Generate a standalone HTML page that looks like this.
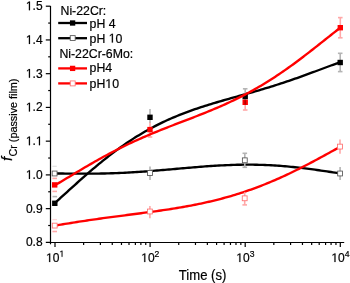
<!DOCTYPE html>
<html><head><meta charset="utf-8"><style>html,body{margin:0;padding:0;background:#fff;width:350px;height:283px;overflow:hidden}svg{display:block;will-change:transform;filter:blur(0.25px)}text{font-family:"Liberation Sans",sans-serif;fill:#000;stroke:#000;stroke-width:0.2px}.o{fill:none;stroke:none}</style></head><body>
<svg width="350" height="283" viewBox="0 0 350 283">
<rect width="350" height="283" fill="#fff"/>
<g stroke="#000" stroke-width="1.20" fill="none">
<line x1="50.50" y1="6.0" x2="50.50" y2="244.3"/>
<line x1="49.90" y1="242.50" x2="344.2" y2="242.50"/>
<line x1="45.8" y1="242.38" x2="50.50" y2="242.38"/>
<line x1="45.8" y1="208.64" x2="50.50" y2="208.64"/>
<line x1="45.8" y1="174.90" x2="50.50" y2="174.90"/>
<line x1="45.8" y1="141.16" x2="50.50" y2="141.16"/>
<line x1="45.8" y1="107.42" x2="50.50" y2="107.42"/>
<line x1="45.8" y1="73.68" x2="50.50" y2="73.68"/>
<line x1="45.8" y1="39.94" x2="50.50" y2="39.94"/>
<line x1="45.8" y1="6.20" x2="50.50" y2="6.20"/>
<line x1="48.2" y1="225.51" x2="50.50" y2="225.51"/>
<line x1="48.2" y1="191.77" x2="50.50" y2="191.77"/>
<line x1="48.2" y1="158.03" x2="50.50" y2="158.03"/>
<line x1="48.2" y1="124.29" x2="50.50" y2="124.29"/>
<line x1="48.2" y1="90.55" x2="50.50" y2="90.55"/>
<line x1="48.2" y1="56.81" x2="50.50" y2="56.81"/>
<line x1="48.2" y1="23.07" x2="50.50" y2="23.07"/>
<line x1="55.00" y1="242.50" x2="55.00" y2="247.0"/>
<line x1="150.10" y1="242.50" x2="150.10" y2="247.0"/>
<line x1="245.20" y1="242.50" x2="245.20" y2="247.0"/>
<line x1="340.30" y1="242.50" x2="340.30" y2="247.0"/>
<line x1="83.63" y1="242.50" x2="83.63" y2="245.0"/>
<line x1="100.37" y1="242.50" x2="100.37" y2="245.0"/>
<line x1="112.26" y1="242.50" x2="112.26" y2="245.0"/>
<line x1="121.47" y1="242.50" x2="121.47" y2="245.0"/>
<line x1="129.00" y1="242.50" x2="129.00" y2="245.0"/>
<line x1="135.37" y1="242.50" x2="135.37" y2="245.0"/>
<line x1="140.88" y1="242.50" x2="140.88" y2="245.0"/>
<line x1="145.75" y1="242.50" x2="145.75" y2="245.0"/>
<line x1="178.73" y1="242.50" x2="178.73" y2="245.0"/>
<line x1="195.47" y1="242.50" x2="195.47" y2="245.0"/>
<line x1="207.36" y1="242.50" x2="207.36" y2="245.0"/>
<line x1="216.57" y1="242.50" x2="216.57" y2="245.0"/>
<line x1="224.10" y1="242.50" x2="224.10" y2="245.0"/>
<line x1="230.47" y1="242.50" x2="230.47" y2="245.0"/>
<line x1="235.98" y1="242.50" x2="235.98" y2="245.0"/>
<line x1="240.85" y1="242.50" x2="240.85" y2="245.0"/>
<line x1="273.83" y1="242.50" x2="273.83" y2="245.0"/>
<line x1="290.57" y1="242.50" x2="290.57" y2="245.0"/>
<line x1="302.46" y1="242.50" x2="302.46" y2="245.0"/>
<line x1="311.67" y1="242.50" x2="311.67" y2="245.0"/>
<line x1="319.20" y1="242.50" x2="319.20" y2="245.0"/>
<line x1="325.57" y1="242.50" x2="325.57" y2="245.0"/>
<line x1="331.08" y1="242.50" x2="331.08" y2="245.0"/>
<line x1="335.95" y1="242.50" x2="335.95" y2="245.0"/>
</g>
<g font-size="12" text-anchor="end">
<text x="42.6" y="246.38">0.8</text>
<text x="42.6" y="212.64">0.9</text>
<text x="42.6" y="178.90"><tspan id="o0" class="o">1</tspan>.0</text>
<text x="42.6" y="145.16"><tspan id="o1" class="o">1</tspan>.<tspan id="o2" class="o">1</tspan></text>
<text x="42.6" y="111.42"><tspan id="o3" class="o">1</tspan>.2</text>
<text x="42.6" y="77.68"><tspan id="o4" class="o">1</tspan>.3</text>
<text x="42.6" y="43.94"><tspan id="o5" class="o">1</tspan>.4</text>
<text x="42.6" y="10.20"><tspan id="o6" class="o">1</tspan>.5</text>
</g>
<text x="55.20" y="262" font-size="12" text-anchor="middle"><tspan id="o7" class="o">1</tspan>0<tspan font-size="8.6" dy="-5.2"><tspan id="o8" class="o">1</tspan></tspan></text>
<text x="150.30" y="262" font-size="12" text-anchor="middle"><tspan id="o9" class="o">1</tspan>0<tspan font-size="8.6" dy="-5.2">2</tspan></text>
<text x="245.40" y="262" font-size="12" text-anchor="middle"><tspan id="o10" class="o">1</tspan>0<tspan font-size="8.6" dy="-5.2">3</tspan></text>
<text x="340.50" y="262" font-size="12" text-anchor="middle"><tspan id="o11" class="o">1</tspan>0<tspan font-size="8.6" dy="-5.2">4</tspan></text>
<text transform="translate(202.6,280.3) scale(1,1.07)" font-size="13.1" text-anchor="middle">Time (s)</text>
<text transform="translate(12,160.9) rotate(-90)" font-size="15"><tspan font-style="italic">f</tspan><tspan font-size="10.8" dy="4.6" dx="0.2">Cr (passive film)</tspan></text>
<g stroke="#ffa8a8" stroke-width="1.6">
<line x1="52.40" y1="178.40" x2="57.00" y2="178.40"/>
<line x1="52.40" y1="191.40" x2="57.00" y2="191.40"/>
<line x1="150.00" y1="122.00" x2="150.00" y2="137.00"/>
<line x1="147.70" y1="137.00" x2="152.30" y2="137.00"/>
<line x1="245.20" y1="94.60" x2="245.20" y2="110.00"/>
<line x1="242.90" y1="110.00" x2="247.50" y2="110.00"/>
<line x1="340.30" y1="17.60" x2="340.30" y2="37.80"/>
<line x1="338.00" y1="17.60" x2="342.60" y2="17.60"/>
<line x1="338.00" y1="37.80" x2="342.60" y2="37.80"/>
</g>
<path fill="none" stroke-width="2.35" stroke-linejoin="round" stroke="#000" d="M55.00,202.88L57.00,201.09L59.00,199.28L61.00,197.48L63.00,195.66L65.00,193.85L67.00,192.03L69.00,190.22L71.00,188.41L73.00,186.60L75.00,184.79L77.00,183.00L79.00,181.20L81.00,179.42L83.00,177.65L85.00,175.89L87.00,174.14L89.00,172.40L91.00,170.68L93.00,168.97L95.00,167.28L97.00,165.60L99.00,163.95L101.00,162.31L103.00,160.68L105.00,159.08L107.00,157.50L109.00,155.93L111.00,154.39L113.00,152.87L115.00,151.37L117.00,149.89L119.00,148.43L121.00,147.00L123.00,145.59L125.00,144.20L127.00,142.83L129.00,141.49L131.00,140.17L133.00,138.88L135.00,137.60L137.00,136.35L139.00,135.13L141.00,133.92L143.00,132.74L145.00,131.59L147.00,130.45L149.00,129.34L151.00,128.25L153.00,127.18L155.00,126.14L157.00,125.11L159.00,124.11L161.00,123.13L163.00,122.16L165.00,121.22L167.00,120.30L169.00,119.40L171.00,118.51L173.00,117.65L175.00,116.80L177.00,115.97L179.00,115.16L181.00,114.36L183.00,113.59L185.00,112.82L187.00,112.07L189.00,111.34L191.00,110.62L193.00,109.91L195.00,109.22L197.00,108.53L199.00,107.86L201.00,107.20L203.00,106.55L205.00,105.91L207.00,105.28L209.00,104.66L211.00,104.05L213.00,103.44L215.00,102.84L217.00,102.25L219.00,101.66L221.00,101.08L223.00,100.50L225.00,99.93L227.00,99.36L229.00,98.79L231.00,98.23L233.00,97.66L235.00,97.10L237.00,96.54L239.00,95.98L241.00,95.42L243.00,94.85L245.00,94.29L247.00,93.72L249.00,93.15L251.00,92.58L253.00,92.01L255.00,91.43L257.00,90.85L259.00,90.26L261.00,89.67L263.00,89.08L265.00,88.48L267.00,87.87L269.00,87.26L271.00,86.64L273.00,86.02L275.00,85.39L277.00,84.75L279.00,84.11L281.00,83.46L283.00,82.80L285.00,82.14L287.00,81.47L289.00,80.79L291.00,80.11L293.00,79.42L295.00,78.72L297.00,78.02L299.00,77.31L301.00,76.60L303.00,75.88L305.00,75.16L307.00,74.43L309.00,73.69L311.00,72.96L313.00,72.22L315.00,71.48L317.00,70.73L319.00,69.98L321.00,69.24L323.00,68.49L325.00,67.74L327.00,67.00L329.00,66.26L331.00,65.52L333.00,64.78L335.00,64.05L337.00,63.33L339.00,62.62L340.00,62.26"/>
<g stroke="#b4b4b4" stroke-width="1.6">
<line x1="52.50" y1="196.60" x2="57.10" y2="196.60"/>
<line x1="150.00" y1="109.00" x2="150.00" y2="122.80"/>
<line x1="245.20" y1="88.80" x2="245.20" y2="104.40"/>
<line x1="242.90" y1="88.80" x2="247.50" y2="88.80"/>
<line x1="340.20" y1="53.30" x2="340.20" y2="71.60"/>
<line x1="337.90" y1="53.30" x2="342.50" y2="53.30"/>
<line x1="337.90" y1="71.60" x2="342.50" y2="71.60"/>
</g>
<rect x="52.10" y="200.60" width="5.40" height="5.40" fill="#000"/>
<rect x="147.30" y="114.60" width="5.40" height="5.40" fill="#000"/>
<rect x="242.50" y="93.90" width="5.40" height="5.40" fill="#000"/>
<rect x="337.50" y="59.80" width="5.40" height="5.40" fill="#000"/>
<path fill="none" stroke-width="2.35" stroke-linejoin="round" stroke="#000" d="M55.00,173.48L57.00,173.49L59.00,173.51L61.00,173.52L63.00,173.54L65.00,173.56L67.00,173.58L69.00,173.60L71.00,173.62L73.00,173.63L75.00,173.65L77.00,173.66L79.00,173.67L81.00,173.68L83.00,173.68L85.00,173.68L87.00,173.68L89.00,173.67L91.00,173.66L93.00,173.65L95.00,173.63L97.00,173.60L99.00,173.57L101.00,173.54L103.00,173.50L105.00,173.46L107.00,173.41L109.00,173.35L111.00,173.29L113.00,173.22L115.00,173.15L117.00,173.07L119.00,172.99L121.00,172.90L123.00,172.81L125.00,172.71L127.00,172.61L129.00,172.50L131.00,172.39L133.00,172.27L135.00,172.15L137.00,172.02L139.00,171.89L141.00,171.75L143.00,171.61L145.00,171.46L147.00,171.31L149.00,171.16L151.00,171.01L153.00,170.85L155.00,170.69L157.00,170.52L159.00,170.35L161.00,170.19L163.00,170.01L165.00,169.84L167.00,169.67L169.00,169.49L171.00,169.31L173.00,169.14L175.00,168.96L177.00,168.78L179.00,168.60L181.00,168.43L183.00,168.25L185.00,168.07L187.00,167.90L189.00,167.73L191.00,167.56L193.00,167.39L195.00,167.22L197.00,167.06L199.00,166.90L201.00,166.74L203.00,166.59L205.00,166.44L207.00,166.29L209.00,166.15L211.00,166.01L213.00,165.88L215.00,165.76L217.00,165.64L219.00,165.52L221.00,165.41L223.00,165.31L225.00,165.22L227.00,165.13L229.00,165.05L231.00,164.97L233.00,164.90L235.00,164.85L237.00,164.79L239.00,164.75L241.00,164.72L243.00,164.69L245.00,164.67L247.00,164.66L249.00,164.66L251.00,164.67L253.00,164.69L255.00,164.71L257.00,164.75L259.00,164.80L261.00,164.85L263.00,164.92L265.00,164.99L267.00,165.07L269.00,165.17L271.00,165.27L273.00,165.38L275.00,165.50L277.00,165.63L279.00,165.77L281.00,165.92L283.00,166.08L285.00,166.25L287.00,166.43L289.00,166.61L291.00,166.81L293.00,167.01L295.00,167.22L297.00,167.44L299.00,167.66L301.00,167.90L303.00,168.14L305.00,168.39L307.00,168.64L309.00,168.90L311.00,169.16L313.00,169.43L315.00,169.71L317.00,169.99L319.00,170.27L321.00,170.56L323.00,170.85L325.00,171.14L327.00,171.43L329.00,171.72L331.00,172.02L333.00,172.31L335.00,172.60L337.00,172.89L339.00,173.18L340.00,173.32"/>
<line x1="52.4" y1="166.3" x2="56.8" y2="166.3" stroke="#e0e0e0" stroke-width="1.2"/>
<g stroke="#b4b4b4" stroke-width="1.6">
<line x1="150.00" y1="166.60" x2="150.00" y2="179.90"/>
<line x1="244.80" y1="153.30" x2="244.80" y2="167.30"/>
<line x1="242.50" y1="153.30" x2="247.10" y2="153.30"/>
<line x1="242.50" y1="167.30" x2="247.10" y2="167.30"/>
<line x1="340.10" y1="166.90" x2="340.10" y2="180.10"/>
</g>
<rect x="52.18" y="171.07" width="4.85" height="4.85" fill="#fff" stroke="#555" stroke-width="0.85"/>
<rect x="147.57" y="170.57" width="4.85" height="4.85" fill="#fff" stroke="#555" stroke-width="0.85"/>
<rect x="242.38" y="157.88" width="4.85" height="4.85" fill="#fff" stroke="#555" stroke-width="0.85"/>
<rect x="337.68" y="171.07" width="4.85" height="4.85" fill="#fff" stroke="#555" stroke-width="0.85"/>
<path fill="none" stroke-width="2.35" stroke-linejoin="round" stroke="#f00" d="M55.00,185.21L57.00,184.05L59.00,182.87L61.00,181.69L63.00,180.50L65.00,179.30L67.00,178.11L69.00,176.91L71.00,175.71L73.00,174.51L75.00,173.31L77.00,172.11L79.00,170.92L81.00,169.72L83.00,168.54L85.00,167.36L87.00,166.19L89.00,165.02L91.00,163.86L93.00,162.71L95.00,161.57L97.00,160.43L99.00,159.31L101.00,158.20L103.00,157.09L105.00,156.00L107.00,154.92L109.00,153.85L111.00,152.79L113.00,151.74L115.00,150.71L117.00,149.68L119.00,148.67L121.00,147.67L123.00,146.69L125.00,145.71L127.00,144.74L129.00,143.79L131.00,142.85L133.00,141.92L135.00,141.00L137.00,140.09L139.00,139.20L141.00,138.31L143.00,137.43L145.00,136.57L147.00,135.71L149.00,134.86L151.00,134.02L153.00,133.19L155.00,132.37L157.00,131.55L159.00,130.74L161.00,129.94L163.00,129.14L165.00,128.35L167.00,127.57L169.00,126.78L171.00,126.01L173.00,125.23L175.00,124.46L177.00,123.69L179.00,122.92L181.00,122.15L183.00,121.39L185.00,120.62L187.00,119.85L189.00,119.08L191.00,118.31L193.00,117.54L195.00,116.76L197.00,115.98L199.00,115.19L201.00,114.40L203.00,113.61L205.00,112.81L207.00,112.00L209.00,111.18L211.00,110.36L213.00,109.52L215.00,108.68L217.00,107.83L219.00,106.96L221.00,106.09L223.00,105.21L225.00,104.31L227.00,103.40L229.00,102.48L231.00,101.54L233.00,100.60L235.00,99.63L237.00,98.65L239.00,97.66L241.00,96.65L243.00,95.63L245.00,94.59L247.00,93.53L249.00,92.46L251.00,91.37L253.00,90.26L255.00,89.14L257.00,88.00L259.00,86.84L261.00,85.66L263.00,84.47L265.00,83.25L267.00,82.02L269.00,80.77L271.00,79.50L273.00,78.22L275.00,76.92L277.00,75.60L279.00,74.26L281.00,72.90L283.00,71.53L285.00,70.14L287.00,68.74L289.00,67.32L291.00,65.88L293.00,64.43L295.00,62.97L297.00,61.49L299.00,59.99L301.00,58.49L303.00,56.97L305.00,55.44L307.00,53.90L309.00,52.36L311.00,50.80L313.00,49.23L315.00,47.66L317.00,46.09L319.00,44.51L321.00,42.92L323.00,41.34L325.00,39.75L327.00,38.16L329.00,36.58L331.00,35.00L333.00,33.43L335.00,31.86L337.00,30.30L339.00,28.75L340.00,27.98"/>
<rect x="52.00" y="182.20" width="5.40" height="5.40" fill="#f00"/>
<rect x="147.30" y="126.90" width="5.40" height="5.40" fill="#f00"/>
<rect x="242.50" y="99.60" width="5.40" height="5.40" fill="#f00"/>
<rect x="337.60" y="25.00" width="5.40" height="5.40" fill="#f00"/>
<line x1="245.2" y1="100.2" x2="245.2" y2="104.4" stroke="#000" stroke-opacity="0.3" stroke-width="1.6"/>
<path fill="none" stroke-width="2.35" stroke-linejoin="round" stroke="#f00" d="M55.00,225.64L57.00,225.30L59.00,224.96L61.00,224.62L63.00,224.28L65.00,223.95L67.00,223.62L69.00,223.29L71.00,222.97L73.00,222.65L75.00,222.33L77.00,222.02L79.00,221.71L81.00,221.40L83.00,221.09L85.00,220.79L87.00,220.50L89.00,220.20L91.00,219.91L93.00,219.62L95.00,219.33L97.00,219.05L99.00,218.77L101.00,218.49L103.00,218.21L105.00,217.94L107.00,217.67L109.00,217.40L111.00,217.13L113.00,216.87L115.00,216.60L117.00,216.34L119.00,216.08L121.00,215.82L123.00,215.56L125.00,215.30L127.00,215.04L129.00,214.78L131.00,214.53L133.00,214.27L135.00,214.01L137.00,213.75L139.00,213.49L141.00,213.23L143.00,212.96L145.00,212.70L147.00,212.43L149.00,212.16L151.00,211.89L153.00,211.62L155.00,211.34L157.00,211.06L159.00,210.78L161.00,210.49L163.00,210.20L165.00,209.90L167.00,209.60L169.00,209.29L171.00,208.98L173.00,208.67L175.00,208.35L177.00,208.02L179.00,207.68L181.00,207.34L183.00,207.00L185.00,206.64L187.00,206.28L189.00,205.91L191.00,205.54L193.00,205.15L195.00,204.76L197.00,204.36L199.00,203.95L201.00,203.53L203.00,203.10L205.00,202.66L207.00,202.21L209.00,201.75L211.00,201.29L213.00,200.81L215.00,200.32L217.00,199.82L219.00,199.31L221.00,198.79L223.00,198.25L225.00,197.71L227.00,197.15L229.00,196.59L231.00,196.01L233.00,195.41L235.00,194.81L237.00,194.19L239.00,193.56L241.00,192.92L243.00,192.27L245.00,191.60L247.00,190.92L249.00,190.23L251.00,189.53L253.00,188.81L255.00,188.08L257.00,187.33L259.00,186.57L261.00,185.80L263.00,185.02L265.00,184.23L267.00,183.42L269.00,182.60L271.00,181.76L273.00,180.91L275.00,180.06L277.00,179.18L279.00,178.30L281.00,177.40L283.00,176.50L285.00,175.58L287.00,174.64L289.00,173.70L291.00,172.75L293.00,171.78L295.00,170.81L297.00,169.82L299.00,168.83L301.00,167.82L303.00,166.80L305.00,165.78L307.00,164.75L309.00,163.71L311.00,162.66L313.00,161.60L315.00,160.54L317.00,159.47L319.00,158.39L321.00,157.31L323.00,156.22L325.00,155.13L327.00,154.03L329.00,152.93L331.00,151.83L333.00,150.73L335.00,149.62L337.00,148.51L339.00,147.41L340.00,146.85"/>
<g stroke="#ffa8a8" stroke-width="1.6">
<line x1="52.40" y1="231.50" x2="57.00" y2="231.50"/>
<line x1="149.90" y1="206.10" x2="149.90" y2="218.30"/>
<line x1="244.70" y1="192.20" x2="244.70" y2="204.90"/>
<line x1="242.40" y1="204.90" x2="247.00" y2="204.90"/>
<line x1="340.00" y1="139.60" x2="340.00" y2="153.80"/>
</g>
<line x1="52.4" y1="219.6" x2="57.0" y2="219.6" stroke="#ffd8d8" stroke-width="1.3"/>
<rect x="52.28" y="223.17" width="4.85" height="4.85" fill="#fff" stroke="#ff7070" stroke-width="0.85"/>
<rect x="147.47" y="209.07" width="4.85" height="4.85" fill="#fff" stroke="#ff7070" stroke-width="0.85"/>
<rect x="242.27" y="195.88" width="4.85" height="4.85" fill="#fff" stroke="#ff7070" stroke-width="0.85"/>
<rect x="337.57" y="144.17" width="4.85" height="4.85" fill="#fff" stroke="#ff7070" stroke-width="0.85"/>
<g font-size="12.30">
<text x="60.5" y="14.5">Ni-22Cr:</text>
<text x="89.6" y="27.6">pH 4</text>
<text x="89.6" y="42.6">pH <tspan id="o12" class="o">1</tspan>0</text>
<text x="59.4" y="57.5">Ni-22Cr-6Mo:</text>
<text x="89.6" y="72.3">pH4</text>
<text x="89.6" y="88.0">pH<tspan id="o13" class="o">1</tspan>0</text>
</g>
<g stroke-width="2.3">
<line x1="58.2" y1="23" x2="87" y2="23" stroke="#000"/>
<line x1="58.2" y1="38.2" x2="87" y2="38.2" stroke="#000"/>
<line x1="58.2" y1="68.4" x2="87" y2="68.4" stroke="#f00"/>
<line x1="58.2" y1="83.4" x2="87" y2="83.4" stroke="#f00"/>
</g>
<rect x="69.95" y="20.35" width="5.30" height="5.30" fill="#000"/>
<rect x="70.23" y="35.62" width="4.95" height="4.95" fill="#fff" stroke="#555" stroke-width="0.85"/>
<rect x="69.95" y="65.75" width="5.30" height="5.30" fill="#f00"/>
<rect x="70.23" y="80.93" width="4.95" height="4.95" fill="#fff" stroke="#ff7070" stroke-width="0.85"/>
<path d="M28.91,178.90 L28.91,171.34 L27.01,172.67 L27.01,171.63 L29.00,170.31 L29.97,170.31 L29.97,178.90Z" fill="#000" stroke="#000" stroke-width="0.2"/>
<path d="M28.90,145.16 L28.90,137.60 L26.99,138.93 L26.99,137.89 L28.99,136.57 L29.96,136.57 L29.96,145.16Z" fill="#000" stroke="#000" stroke-width="0.2"/>
<path d="M38.93,145.16 L38.93,137.60 L37.03,138.93 L37.03,137.89 L39.02,136.57 L39.99,136.57 L39.99,145.16Z" fill="#000" stroke="#000" stroke-width="0.2"/>
<path d="M28.91,111.42 L28.91,103.86 L27.01,105.19 L27.01,104.15 L29.00,102.83 L29.97,102.83 L29.97,111.42Z" fill="#000" stroke="#000" stroke-width="0.2"/>
<path d="M28.91,77.68 L28.91,70.12 L27.01,71.45 L27.01,70.41 L29.00,69.09 L29.97,69.09 L29.97,77.68Z" fill="#000" stroke="#000" stroke-width="0.2"/>
<path d="M28.91,43.94 L28.91,36.38 L27.01,37.71 L27.01,36.67 L29.00,35.35 L29.97,35.35 L29.97,43.94Z" fill="#000" stroke="#000" stroke-width="0.2"/>
<path d="M28.91,10.20 L28.91,2.64 L27.01,3.97 L27.01,2.93 L29.00,1.61 L29.97,1.61 L29.97,10.20Z" fill="#000" stroke="#000" stroke-width="0.2"/>
<path d="M49.14,262.00 L49.14,254.44 L47.24,255.77 L47.24,254.73 L49.23,253.41 L50.20,253.41 L50.20,262.00Z" fill="#000" stroke="#000" stroke-width="0.2"/>
<path d="M61.66,256.80 L61.66,251.38 L60.29,252.34 L60.29,251.59 L61.72,250.64 L62.42,250.64 L62.42,256.80Z" fill="#000" stroke="#000" stroke-width="0.2"/>
<path d="M144.24,262.00 L144.24,254.44 L142.34,255.77 L142.34,254.73 L144.33,253.41 L145.30,253.41 L145.30,262.00Z" fill="#000" stroke="#000" stroke-width="0.2"/>
<path d="M239.34,262.00 L239.34,254.44 L237.44,255.77 L237.44,254.73 L239.43,253.41 L240.40,253.41 L240.40,262.00Z" fill="#000" stroke="#000" stroke-width="0.2"/>
<path d="M334.44,262.00 L334.44,254.44 L332.54,255.77 L332.54,254.73 L334.53,253.41 L335.50,253.41 L335.50,262.00Z" fill="#000" stroke="#000" stroke-width="0.2"/>
<path d="M111.83,42.60 L111.83,34.85 L109.88,36.22 L109.88,35.15 L111.92,33.80 L112.92,33.80 L112.92,42.60Z" fill="#000" stroke="#000" stroke-width="0.2"/>
<path d="M108.43,88.00 L108.43,80.25 L106.48,81.62 L106.48,80.55 L108.52,79.20 L109.51,79.20 L109.51,88.00Z" fill="#000" stroke="#000" stroke-width="0.2"/>
</svg></body></html>
